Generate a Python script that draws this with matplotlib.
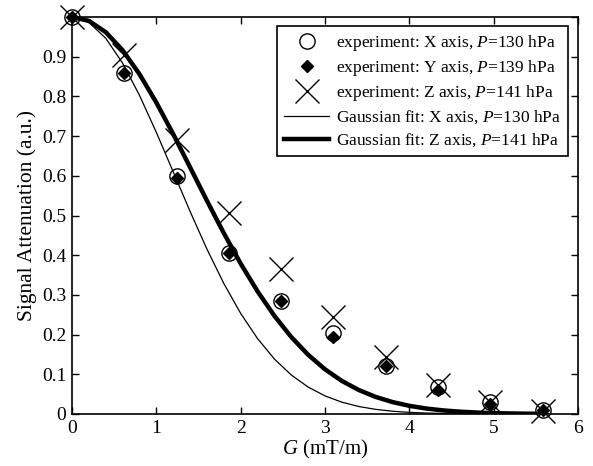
import matplotlib
matplotlib.use("Agg")
import matplotlib.pyplot as plt

plt.rcParams['font.family'] = ['Liberation Serif', 'DejaVu Serif']
plt.rcParams['mathtext.fontset'] = 'custom'
plt.rcParams['mathtext.it'] = 'Liberation Serif:italic'
plt.rcParams['mathtext.rm'] = 'Liberation Serif'

# experimental data
G_exp = [0.0, 0.62, 1.24, 1.86, 2.48, 3.10, 3.72, 4.34, 4.96, 5.58]
x_axis = [1.0, 0.86, 0.60, 0.405, 0.285, 0.205, 0.12, 0.068, 0.03, 0.01]
y_axis = [1.0, 0.86, 0.595, 0.405, 0.285, 0.195, 0.12, 0.06, 0.025, 0.01]
z_axis = [1.0, 0.905, 0.69, 0.507, 0.365, 0.244, 0.144, 0.072, 0.03, 0.008]

# fit curves
G_fit = [0.0, 0.2, 0.4, 0.6, 0.8, 1.0, 1.2, 1.4, 1.6, 1.8, 2.0, 2.2, 2.4, 2.6,
         2.8, 3.0, 3.2, 3.4, 3.6, 3.8, 4.0, 4.2, 4.4, 4.6, 4.8, 5.0, 5.2, 5.4, 5.6]
fit_x = [1.0, 0.9864, 0.9466, 0.8838, 0.8028, 0.7095, 0.6100, 0.5104, 0.4154,
         0.3289, 0.2534, 0.1900, 0.1385, 0.0983, 0.0679, 0.0456, 0.0298, 0.0189,
         0.0117, 0.0070, 0.0041, 0.0024, 0.0013, 0.0007, 0.0004, 0.0002, 0.0001,
         0.0, 0.0]
fit_z = [1.0, 0.9903, 0.9619, 0.9163, 0.8562, 0.7845, 0.7051, 0.6215, 0.5373,
         0.4556, 0.3789, 0.3090, 0.2472, 0.1939, 0.1492, 0.1126, 0.0833, 0.0605,
         0.0431, 0.0301, 0.0206, 0.0138, 0.0091, 0.0059, 0.0037, 0.0023, 0.0014,
         0.0008, 0.0005]

labels = [r"experiment: X axis, $P$=130 hPa",
          r"experiment: Y axis, $P$=139 hPa",
          r"experiment: Z axis, $P$=141 hPa",
          r"Gaussian fit: X axis, $P$=130 hPa",
          r"Gaussian fit: Z axis, $P$=141 hPa"]

fig = plt.figure(figsize=(5.93, 4.66), dpi=100)
ax = fig.add_axes([72/593, 52/466, 506/593, 397/466])

h1, = ax.plot(G_exp, x_axis, 'o', mfc='none', mec='black', ms=11, mew=1.0,
              zorder=4, clip_on=False)
h2, = ax.plot(G_exp, y_axis, 'D', mfc='black', mec='black', ms=6.5,
              zorder=5, clip_on=False)
h3, = ax.plot(G_exp, z_axis, 'x', color='black', ms=17, mew=1.0,
              zorder=4, clip_on=False)
h4, = ax.plot(G_fit, fit_x, '-', color='black', lw=0.9, zorder=3)
h5, = ax.plot(G_fit, fit_z, '-', color='black', lw=3.2, zorder=3)

ax.set_xlim(0, 6)
ax.set_ylim(0, 1)
ax.set_xticks([0, 1, 2, 3, 4, 5, 6])
ax.set_yticks([0, 0.1, 0.2, 0.3, 0.4, 0.5, 0.6, 0.7, 0.8, 0.9, 1.0])
ax.set_yticklabels(['0', '0.1', '0.2', '0.3', '0.4', '0.5', '0.6', '0.7', '0.8', '0.9', ''])
ax.tick_params(direction='in', top=True, right=True, length=5, width=1.0,
               labelsize=14, pad=4, colors='black')
for s in ax.spines.values():
    s.set_linewidth(1.2)

ax.set_xlabel(r"$G$ (mT/m)", fontsize=15, labelpad=1)
ax.set_ylabel("Signal Attenuation (a.u.)", fontsize=15.5, labelpad=4)

leg = ax.legend([h1, h2, h3, h4, h5], labels, loc='upper right', fontsize=12.5,
                frameon=True, fancybox=False, edgecolor='black', framealpha=1,
                handlelength=2.6, handletextpad=0.4, borderpad=0.4,
                labelspacing=0.3, borderaxespad=0.0,
                bbox_to_anchor=(0.980, 0.977))
leg.get_frame().set_linewidth(1.2)

fig.savefig("out.png", dpi=100)
